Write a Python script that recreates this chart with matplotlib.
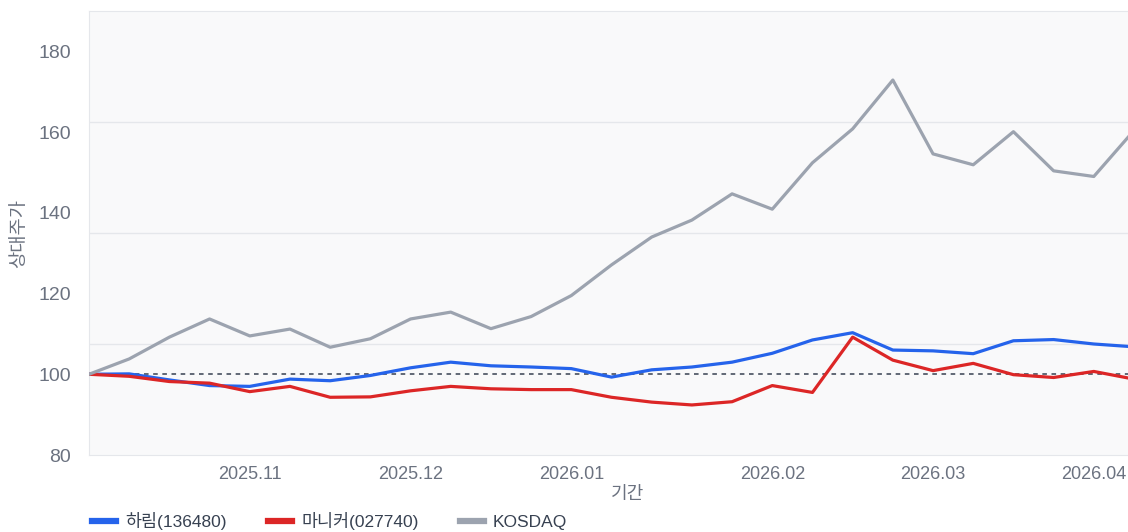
import matplotlib.pyplot as plt
import pandas as pd

plt.rcParams['font.family'] = ['Liberation Sans', 'Noto Sans CJK KR']

# weekly closes, rebased to 100
dates = ["2025-10-10", "2025-10-17", "2025-10-24", "2025-10-31", "2025-11-07",
         "2025-11-14", "2025-11-21", "2025-11-28", "2025-12-05", "2025-12-12",
         "2025-12-19", "2025-12-26", "2026-01-02", "2026-01-09", "2026-01-16",
         "2026-01-23", "2026-01-30", "2026-02-06", "2026-02-13", "2026-02-20",
         "2026-02-27", "2026-03-06", "2026-03-13", "2026-03-20", "2026-03-27",
         "2026-04-03", "2026-04-10"]
harim = [100.0, 100.1, 98.6, 97.2, 97.0, 98.8, 98.4, 99.7, 101.6, 103.0,
         102.1, 101.8, 101.4, 99.3, 101.1, 101.8, 103.0, 105.2, 108.5, 110.3,
         106.0, 105.8, 105.1, 108.3, 108.6, 107.5, 106.8]
maniker = [100.0, 99.5, 98.2, 97.8, 95.7, 97.0, 94.3, 94.4, 95.9, 97.0,
           96.4, 96.2, 96.2, 94.3, 93.1, 92.4, 93.2, 97.2, 95.5, 109.2,
           103.5, 100.9, 102.7, 99.9, 99.2, 100.7, 98.8]
kosdaq = [100.0, 103.8, 109.2, 113.7, 109.5, 111.2, 106.7, 108.8, 113.7, 115.4,
          111.3, 114.3, 119.5, 127.1, 134.0, 138.2, 144.7, 140.9, 152.4, 160.8,
          172.9, 154.6, 151.9, 160.1, 150.4, 149.0, 160.4]
series_names = ["하림(136480)", "마니커(027740)", "KOSDAQ"]
colors = ["#2563eb", "#dc2626", "#9ca3af"]
y_labels = [80, 100, 120, 140, 160, 180]
y_grid = [107.5, 135, 162.5]

dt = pd.to_datetime(dates)
x = list(range(len(dates)))
month_start = [i for i in x if i == 0 or dt[i].month != dt[i - 1].month][1:]
month_labels = [dt[i].strftime("%Y.%m") for i in month_start]

fig = plt.figure(figsize=(11.28, 5.32), dpi=100)
ax = fig.add_axes([89 / 1128, 1 - 455 / 532, (1134 - 89) / 1128, 444 / 532])
ax.set_facecolor("#f9f9fa")

ax.axhline(100, color="#374151", lw=1.1, ls=(0, (3, 3)), zorder=1)
for vals, name, c in zip([harim, maniker, kosdaq], series_names, colors):
    ax.plot(x, vals, color=c, lw=2.3, label=name, zorder=3)

ax.set_xlim(0, len(dates) - 1)
ax.set_ylim(80, 190)
ax.set_yticks(y_labels)
ax.set_yticks(y_grid, minor=True)
ax.grid(which="minor", axis="y", color="#e5e7eb", lw=1)
ax.set_xticks(month_start)
ax.set_xticklabels(month_labels)
ax.tick_params(which="both", length=0, labelcolor="#6b7280")
ax.tick_params(axis="y", pad=13, labelsize=14)
ax.tick_params(axis="x", pad=8, labelsize=13)
for side in ["left", "top", "bottom"]:
    ax.spines[side].set_color("#e5e7eb")
ax.spines["right"].set_visible(False)

fig.text(20 / 1128, 1 - 234 / 532, "상대주가", rotation=90, ha="center", va="center",
         fontsize=13.5, color="#6b7280")
fig.text(628 / 1128, 1 - 495 / 532, "기간", ha="center", va="center",
         fontsize=13, color="#6b7280")

leg = fig.legend(loc="center left", bbox_to_anchor=(85 / 1128, 1 - 521 / 532), ncol=3,
                 frameon=False, fontsize=12.5, handlelength=1.4, handletextpad=0.5,
                 columnspacing=2.4, borderaxespad=0)
for line in leg.get_lines():
    line.set_linewidth(4.5)
for t in leg.get_texts():
    t.set_color("#374151")

fig.savefig("out.png", dpi=100)
